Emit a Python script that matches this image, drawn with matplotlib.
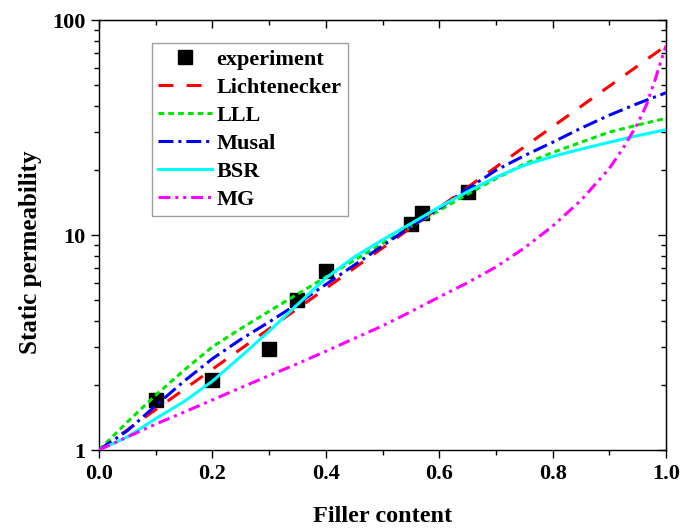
import matplotlib
matplotlib.use("Agg")
import matplotlib.pyplot as plt
from matplotlib.ticker import MultipleLocator, LogLocator, NullFormatter, FixedLocator, FormatStrFormatter

plt.rcParams['font.family'] = ['Liberation Serif', 'DejaVu Serif']
plt.rcParams['font.weight'] = 'bold'

# measured points
exp_x = [0.10, 0.20, 0.30, 0.35, 0.40, 0.55, 0.57, 0.65]
exp_y = [1.71, 2.12, 2.94, 4.99, 6.82, 11.3, 12.7, 15.9]

# model curves
lich_x = [0.0, 0.25, 0.5, 0.75, 1.0]
lich_y = [1.0, 2.95, 8.7, 25.7, 76.0]

phi = [0.0, 0.05, 0.1, 0.15, 0.2, 0.25, 0.3, 0.35, 0.4, 0.45, 0.5,
       0.55, 0.6, 0.65, 0.7, 0.75, 0.8, 0.85, 0.9, 0.95, 1.0]
lll_y = [1.0, 1.35, 1.80, 2.35, 3.02, 3.67, 4.42, 5.31, 6.38, 7.62, 9.12,
         10.96, 13.0, 15.5, 18.3, 21.4, 24.2, 27.0, 30.1, 32.5, 34.9]
musal_y = [1.0, 1.23, 1.61, 2.09, 2.66, 3.27, 3.94, 4.79, 5.89, 7.24, 8.91,
           10.96, 13.3, 16.4, 20.0, 23.4, 27.0, 31.4, 36.1, 40.9, 45.9]
bsr_y = [1.0, 1.15, 1.40, 1.68, 2.09, 2.72, 3.57, 4.75, 6.3, 7.9, 9.5,
         11.3, 13.5, 15.9, 18.6, 21.1, 23.2, 25.1, 27.0, 29.0, 30.9]

mg_x = [0.0, 0.05, 0.1, 0.15, 0.2, 0.25, 0.3, 0.35, 0.4, 0.45, 0.5, 0.55,
        0.6, 0.65, 0.7, 0.75, 0.8, 0.85, 0.9, 0.925, 0.95, 0.965, 0.98, 0.99, 1.0]
mg_y = [1.0, 1.15, 1.32, 1.50, 1.71, 1.95, 2.22, 2.52, 2.88, 3.30, 3.78, 4.40,
        5.15, 6.0, 7.1, 8.7, 11.0, 14.5, 20.4, 25.5, 33.0, 40.0, 52.0, 63.0, 76.0]

fig = plt.figure(figsize=(6.81, 5.28), dpi=100)
ax = fig.add_axes([0.1454, 0.1477, 0.8326, 0.8143])

lw = 2.2
sq, = ax.plot(exp_x, exp_y, 's', color='black', markersize=10, zorder=2,
              label='experiment')
l1, = ax.plot(lich_x, lich_y, color='#ff0000', lw=lw, dashes=(4.9, 4.3),
              label='Lichtenecker', zorder=3)
l2, = ax.plot(phi, lll_y, color='#00e600', lw=lw, dashes=(1.9, 1.3),
              label='LLL', zorder=3)
l3, = ax.plot(phi, musal_y, color='#0000ff', lw=lw,
              dashes=(4.9, 1.6, 1.0, 1.6), label='Musal', zorder=3)
l4, = ax.plot(phi, bsr_y, color='#00ffff', lw=lw, label='BSR', zorder=3)
l5, = ax.plot(mg_x, mg_y, color='#ff00ff', lw=lw,
              dashes=(3.9, 1.6, 1.0, 1.6, 1.0, 1.6), label='MG', zorder=3)

ax.set_yscale('log')
ax.set_xlim(0, 1)
ax.set_ylim(1, 100)

ax.xaxis.set_major_locator(MultipleLocator(0.2))
ax.xaxis.set_minor_locator(MultipleLocator(0.1))
ax.xaxis.set_major_formatter(FormatStrFormatter('%.1f'))
ax.yaxis.set_major_locator(FixedLocator([1, 10, 100]))
ax.yaxis.set_major_formatter(FormatStrFormatter('%d'))
ax.yaxis.set_minor_locator(LogLocator(base=10, subs=range(2, 10)))
ax.yaxis.set_minor_formatter(NullFormatter())

ax.tick_params(which='both', direction='out', top=False, right=False,
               width=1.0, labelsize=16, pad=4)
ax.tick_params(which='major', length=6)
ax.tick_params(which='minor', length=3.5)

# mirrored axes with inward ticks
tx = ax.secondary_xaxis('top')
tx.xaxis.set_major_locator(MultipleLocator(0.2))
tx.xaxis.set_minor_locator(MultipleLocator(0.1))
tx.tick_params(which='both', direction='in', labeltop=False, width=1.0)
tx.tick_params(which='major', length=6)
tx.tick_params(which='minor', length=3.5)
ry = ax.secondary_yaxis('right')
ry.yaxis.set_major_locator(FixedLocator([1, 10, 100]))
ry.yaxis.set_minor_locator(LogLocator(base=10, subs=range(2, 10)))
ry.yaxis.set_minor_formatter(NullFormatter())
ry.tick_params(which='both', direction='in', labelright=False, width=1.0)
ry.tick_params(which='major', length=6)
ry.tick_params(which='minor', length=3.5)

for s in ax.spines.values():
    s.set_linewidth(1.0)

ax.set_xlabel('Filler content', fontsize=17.5, fontweight='bold', labelpad=16)
ax.set_ylabel('Static permeability', fontsize=18, fontweight='bold')
ax.yaxis.set_label_coords(-0.10, 0.46)

leg = ax.legend(handles=[sq, l1, l2, l3, l4, l5], loc='upper left',
                bbox_to_anchor=(0.093, 0.947), borderaxespad=0,
                fontsize=16, frameon=True, fancybox=False, handlelength=2.4,
                handletextpad=0.2, labelspacing=0.33, borderpad=0.3)
leg.get_frame().set_edgecolor('#888888')
leg.get_frame().set_linewidth(1.0)

fig.savefig('out.png', dpi=100)
